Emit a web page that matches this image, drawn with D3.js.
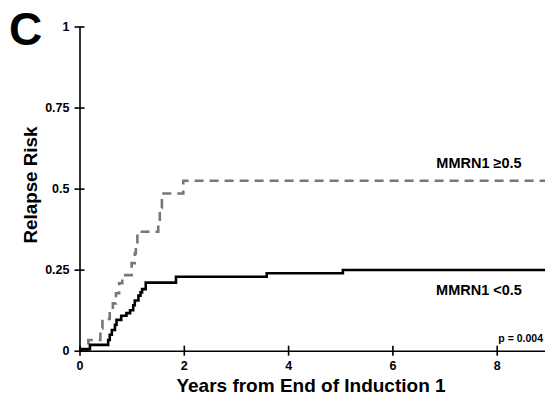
<!DOCTYPE html>
<html>
<head>
<meta charset="utf-8">
<script src="https://cdn.jsdelivr.net/npm/d3@7"></script>
<style>
  html, body { margin: 0; padding: 0; background: #fff; }
  svg { display: block; font-family: "Liberation Sans", Arial, sans-serif; }
</style>
</head>
<body>
<svg id="chart" width="545" height="405"></svg>
<script>
// Cumulative incidence of relapse by MMRN1 expression group
const xTicks = [0, 2, 4, 6, 8];
const yTicks = [0, 0.25, 0.5, 0.75, 1];
const yTickLabels = ["0", "0.25", "0.5", "0.75", "1"];

// [years, relapse risk] step points
const highTimes  = [0, 0.17, 0.40, 0.44, 0.58, 0.64, 0.70, 0.76, 0.82, 1.00, 1.06, 1.08, 1.11, 1.51, 1.54, 1.58, 1.99, 9];
const highValues = [0, 0.033, 0.069, 0.098, 0.12, 0.146, 0.177, 0.208, 0.233, 0.27, 0.30, 0.33, 0.367, 0.40, 0.44, 0.485, 0.524, 0.524];

const lowTimes  = [0, 0.20, 0.55, 0.58, 0.62, 0.68, 0.71, 0.80, 0.90, 0.97, 1.03, 1.06, 1.13, 1.17, 1.20, 1.27, 1.85, 3.59, 5.05, 9];
const lowValues = [0.005, 0.018, 0.033, 0.049, 0.064, 0.08, 0.095, 0.108, 0.116, 0.125, 0.14, 0.155, 0.17, 0.18, 0.19, 0.21, 0.228, 0.239, 0.249, 0.249];

const seriesNames = ["MMRN1 \u22650.5", "MMRN1 <0.5"];
const pValueText = "p = 0.004";

const svg = d3.select("#chart");

const x = d3.scaleLinear().domain([0, 9]).range([79.5, 79.5 + 52.15 * 9]);
const y = d3.scaleLinear().domain([0, 1]).range([350.7, 26.5]);

// Panel letter
svg.append("text")
  .attr("x", 9).attr("y", 45)
  .attr("font-size", 46).attr("font-weight", "bold")
  .text("C");

// Curves
const line = d3.line().x(d => x(d[0])).y(d => y(d[1])).curve(d3.curveStepAfter);
const highData = highTimes.map((t, i) => [t, highValues[i]]);
const lowData = lowTimes.map((t, i) => [t, lowValues[i]]);

svg.append("path")
  .datum(highData)
  .attr("d", line)
  .attr("fill", "none")
  .attr("stroke", "#777")
  .attr("stroke-width", 2.6)
  .attr("stroke-dasharray", "9,6");

svg.append("path")
  .datum(lowData)
  .attr("d", line)
  .attr("fill", "none")
  .attr("stroke", "#000")
  .attr("stroke-width", 2.6);

// Axes
const axisStyle = g => {
  g.select(".domain").attr("stroke", "#000").attr("stroke-width", 1.6);
  g.selectAll(".tick line").attr("stroke", "#000").attr("stroke-width", 1.6);
  g.selectAll(".tick text").attr("font-size", 12.5).attr("font-weight", "bold")
    .attr("font-family", "Liberation Sans, Arial, sans-serif").attr("fill", "#000");
};

const xAxis = svg.append("g")
  .attr("transform", `translate(0,${y(0)})`)
  .call(d3.axisBottom(x).tickValues(xTicks).tickFormat(d3.format("d"))
    .tickSizeInner(5).tickSizeOuter(0).tickPadding(5));
xAxis.selectAll(".tick line").attr("y1", -5);
xAxis.call(axisStyle);

const yAxis = svg.append("g")
  .attr("transform", `translate(${x(0)},0)`)
  .call(d3.axisLeft(y).tickValues(yTicks).tickFormat((d, i) => yTickLabels[i])
    .tickSizeInner(5).tickSizeOuter(0).tickPadding(5));
yAxis.selectAll(".tick line").attr("x1", 5);
yAxis.call(axisStyle);

// Axis titles
svg.append("text")
  .attr("x", 311).attr("y", 392)
  .attr("text-anchor", "middle")
  .attr("font-size", 19).attr("font-weight", "bold")
  .text("Years from End of Induction 1");

svg.append("text")
  .attr("transform", "translate(37,185) rotate(-90)")
  .attr("text-anchor", "middle")
  .attr("font-size", 18.8).attr("font-weight", "bold")
  .text("Relapse Risk");

// Series labels
svg.append("text")
  .attr("x", 479).attr("y", 168)
  .attr("text-anchor", "middle")
  .attr("font-size", 14.5).attr("font-weight", "bold")
  .text(seriesNames[0]);

svg.append("text")
  .attr("x", 479).attr("y", 295)
  .attr("text-anchor", "middle")
  .attr("font-size", 14.5).attr("font-weight", "bold")
  .text(seriesNames[1]);

svg.append("text")
  .attr("x", 543).attr("y", 342)
  .attr("text-anchor", "end")
  .attr("font-size", 10.5).attr("font-weight", "bold")
  .text(pValueText);
</script>
</body>
</html>
